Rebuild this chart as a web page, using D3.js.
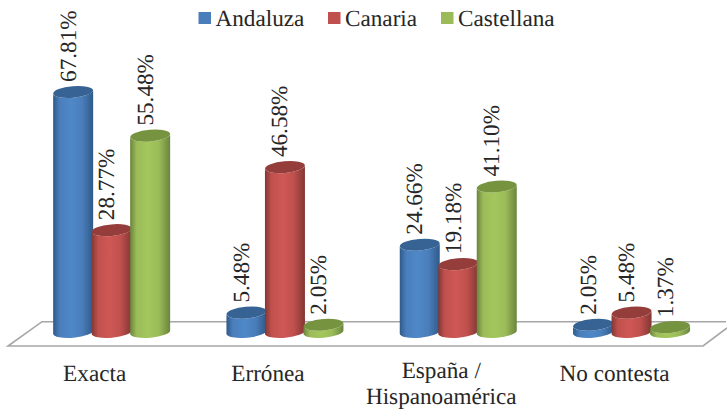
<!DOCTYPE html>
<html lang="es">
<head>
<meta charset="utf-8">
<title>Respuestas por variedad</title>
<script src="https://cdn.jsdelivr.net/npm/d3@7"></script>
<style>
  html, body { margin: 0; padding: 0; background: #fff; }
  svg { display: block; }
  text { font-family: "Liberation Serif", serif; fill: #262626; text-rendering: geometricPrecision; }
</style>
</head>
<body>
<div id="chart"></div>
<script>
const categories = [["Exacta"], ["Errónea"], ["España /", "Hispanoamérica"], ["No contesta"]];
const seriesNames = ["Andaluza", "Canaria", "Castellana"];
const andaluza = [67.81, 5.48, 24.66, 2.05];
const canaria = [28.77, 46.58, 19.18, 5.48];
const castellana = [55.48, 2.05, 41.10, 1.37];
const seriesValues = [andaluza, canaria, castellana];

// Side, centre and cap tones for each cylinder colour
const tones = [
  { base: "#4a7ebb", edge: "#2f5a8a", light: "#4f88c8", cap: "#376394" },
  { base: "#c0504d", edge: "#823734", light: "#cf5855", cap: "#953d3b" },
  { base: "#9bbb59", edge: "#6a853c", light: "#a3c75c", cap: "#76933f" }
];

const width = 727, height = 409;
const fontSize = 23.2;
const radius = 20, capRy = 5.8, tilt = 5;

const svg = d3.select("#chart").append("svg")
  .attr("width", width).attr("height", height)
  .attr("viewBox", `0 0 ${width} ${height}`);

const x0 = d3.scaleBand().domain(d3.range(categories.length)).range([25, 718.2]);
const x1 = d3.scaleBand().domain(d3.range(seriesNames.length)).range([-57.75, 57.75]);
const y = d3.scaleLinear().domain([0, 100]).range([332, -22]);

// Horizontal shading that gives the bars their round look
const defs = svg.append("defs");
tones.forEach((t, i) => {
  const g = defs.append("linearGradient").attr("id", `side-${i}`)
    .attr("x1", 0).attr("x2", 1).attr("y1", 0).attr("y2", 0);
  [[0, t.edge], [0.16, t.base], [0.45, t.light], [0.72, t.base], [1, t.edge]].forEach(([o, c]) =>
    g.append("stop").attr("offset", o).attr("stop-color", c));
});

// Floor of the plot, drawn as a flat parallelogram
const floor = d3.line();
svg.append("path")
  .attr("d", floor([[726, 321.7], [42, 321.7], [8, 346], [703, 346], [727, 328]]))
  .attr("fill", "#fff").attr("stroke", "#a6a6a6").attr("stroke-width", 1.6);

const tiltY = radius * Math.sin(tilt * Math.PI / 180);

const bars = seriesNames.flatMap((name, s) =>
  seriesValues[s].map((v, c) => ({ s, c, v, cx: x0(c) + x0.bandwidth() / 2 + x1(s) + x1.bandwidth() / 2 })));

const barGroups = svg.append("g").selectAll("g").data(bars).join("g");

// Wall of the cylinder with its rounded underside
barGroups.append("path")
  .attr("fill", d => `url(#side-${d.s})`)
  .attr("d", d => {
    const top = y(d.v), base = y(0);
    return `M${d.cx - radius},${top + tiltY}` +
      `L${d.cx - radius},${base + tiltY}` +
      `A${radius},${capRy} ${-tilt} 0 0 ${d.cx + radius},${base - tiltY}` +
      `L${d.cx + radius},${top - tiltY}` +
      `A${radius},${capRy} ${-tilt} 0 1 ${d.cx - radius},${top + tiltY}Z`;
  });

// Elliptical cap
barGroups.append("ellipse")
  .attr("cx", d => d.cx).attr("cy", d => y(d.v))
  .attr("rx", radius).attr("ry", capRy)
  .attr("fill", d => tones[d.s].cap)
  .attr("transform", d => `rotate(${-tilt} ${d.cx} ${y(d.v)})`);

// Value labels read upward above each bar
svg.append("g").selectAll("text").data(bars).join("text")
  .attr("font-size", fontSize)
  .attr("transform", d => `translate(${d.cx + 2.5},${y(d.v) - 10}) rotate(-90)`)
  .text(d => d.v.toFixed(2) + "%");

// Category axis; the two-line label sits slightly higher so it stays on the page
const labelShift = -17;
const axis = d3.axisBottom(x0).tickSize(0).tickPadding(0).tickFormat("");
const axisG = svg.append("g")
  .attr("transform", `translate(${labelShift},381)`)
  .call(axis);
axisG.select(".domain").remove();
axisG.selectAll(".tick text")
  .attr("font-size", fontSize)
  .attr("y", 0).attr("dy", 0)
  .attr("text-anchor", "middle")
  .style("font-family", '"Liberation Serif", serif')
  .each(function (i) {
    const lines = categories[i];
    d3.select(this).selectAll("tspan").data(lines).join("tspan")
      .attr("x", 0).attr("dy", (_, n) => n ? 25.9 : (lines.length > 1 ? -3.2 : 0))
      .text(line => line);
  });

// Legend across the top
const legendSwatchX = [198.5, 328, 441];
const legend = svg.append("g").selectAll("g").data(seriesNames).join("g")
  .attr("transform", (_, i) => `translate(${legendSwatchX[i]},12)`);
legend.append("rect").attr("width", 12.5).attr("height", 12)
  .attr("fill", (_, i) => tones[i].base);
legend.append("text").attr("x", 17).attr("y", 14)
  .attr("font-size", fontSize).text(d => d);
</script>
</body>
</html>
